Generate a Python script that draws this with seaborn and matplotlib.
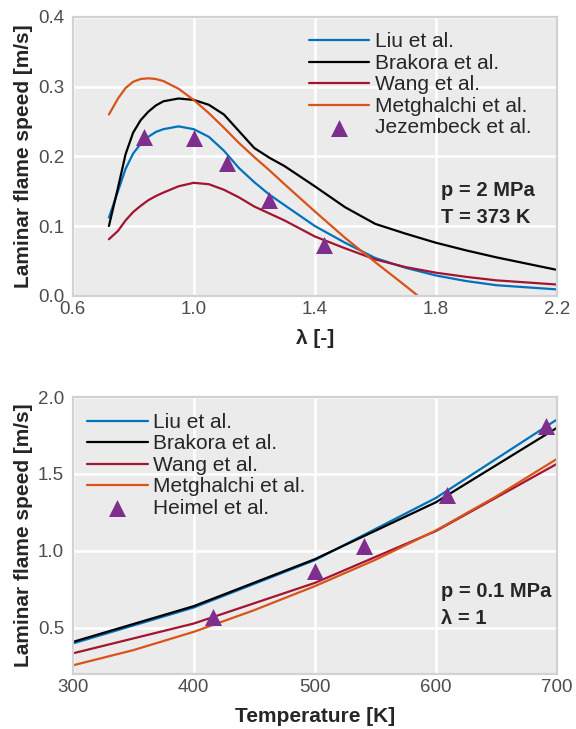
import numpy as np
import pandas as pd
import matplotlib
matplotlib.use('Agg')
import matplotlib.pyplot as plt
import seaborn as sns

# ---- data: top panel (p = 2 MPa, T = 373 K) ----
lam = [0.72, 0.75, 0.775, 0.8, 0.825, 0.85, 0.875, 0.9, 0.95, 1.0, 1.05, 1.1,
       1.15, 1.2, 1.25, 1.3, 1.4, 1.5, 1.6, 1.7, 1.8, 1.9, 2.0, 2.1, 2.2]
liu_lam = [0.112, 0.15, 0.182, 0.204, 0.218, 0.228, 0.235, 0.239, 0.243,
           0.239, 0.228, 0.208, 0.183, 0.163, 0.145, 0.13, 0.1, 0.076, 0.054,
           0.04, 0.029, 0.021, 0.015, 0.012, 0.009]
brakora_lam = [0.1, 0.155, 0.203, 0.234, 0.252, 0.264, 0.273, 0.279, 0.283,
               0.281, 0.274, 0.26, 0.236, 0.212, 0.198, 0.186, 0.157, 0.127,
               0.103, 0.089, 0.076, 0.065, 0.055, 0.046, 0.037]
wang_lam = [0.081, 0.093, 0.108, 0.12, 0.129, 0.137, 0.143, 0.148, 0.157,
            0.162, 0.16, 0.152, 0.141, 0.128, 0.118, 0.108, 0.085, 0.068,
            0.052, 0.041, 0.033, 0.027, 0.022, 0.019, 0.016]
lam_met = [0.72, 0.75, 0.775, 0.8, 0.825, 0.85, 0.875, 0.9, 0.95, 1.0, 1.05,
           1.1, 1.15, 1.2, 1.25, 1.3, 1.4, 1.5, 1.6, 1.7, 1.74]
met_lam = [0.26, 0.283, 0.298, 0.307, 0.311, 0.312, 0.311, 0.308, 0.297, 0.281,
           0.262, 0.241, 0.219, 0.199, 0.18, 0.16, 0.121, 0.083, 0.048, 0.014,
           0.0]
jez_lam = [0.835, 1.0, 1.11, 1.25, 1.43]
jez_sl = [0.228, 0.226, 0.19, 0.137, 0.073]

# ---- data: bottom panel (p = 0.1 MPa, lambda = 1) ----
temp = [300, 400, 500, 600, 700]
liu_T = [0.398, 0.632, 0.94, 1.344, 1.854]
brakora_T = [0.408, 0.641, 0.946, 1.316, 1.80]
wang_T = [0.334, 0.528, 0.792, 1.129, 1.566]
temp_met = [300, 350, 400, 450, 500, 550, 600, 650, 700]
met_T = [0.256, 0.355, 0.474, 0.615, 0.771, 0.942, 1.133, 1.355, 1.598]
heimel_T = [416, 500, 541, 609, 691]
heimel_sl = [0.571, 0.872, 1.032, 1.361, 1.81]

colors = {'Liu et al.': '#0072BD', 'Brakora et al.': '#000000',
          'Wang et al.': '#A2142F', 'Metghalchi et al.': '#D95319'}
tri_color = '#7E2F8E'

sns.set_theme(style='darkgrid', rc={
    'axes.facecolor': '#EBEBEB',
    'axes.edgecolor': '#D2D2D2',
    'axes.linewidth': 1.6,
    'grid.color': 'white',
    'grid.linewidth': 1.8,
    'xtick.color': '#4d4d4d',
    'ytick.color': '#4d4d4d',
    'xtick.labelsize': 13.5,
    'ytick.labelsize': 13.5,
})
plt.rcParams['font.family'] = ['Liberation Sans', 'DejaVu Sans']

fig = plt.figure(figsize=(5.76, 7.29), dpi=100)
ax1 = fig.add_axes([0.126, 0.5944, 0.841, 0.3823])
ax2 = fig.add_axes([0.126, 0.0754, 0.841, 0.380])

leg_kw = dict(loc='upper left', frameon=False, fontsize=15, borderpad=0,
              borderaxespad=0, handlelength=2.9, handletextpad=0.25,
              labelspacing=0.12)
note_kw = dict(fontsize=14.5, fontweight='bold')


def draw_panel(ax, lines, pts, pts_label):
    for name, (xs, ys) in lines.items():
        sns.lineplot(x=xs, y=ys, ax=ax, color=colors[name], linewidth=1.6,
                     label=name, sort=False, estimator=None)
    sns.scatterplot(x=pts[0], y=pts[1], ax=ax, marker='^', s=150,
                    color=tri_color, linewidth=0, label=pts_label, zorder=3)


# top panel
draw_panel(ax1, {'Liu et al.': (lam, liu_lam),
                 'Brakora et al.': (lam, brakora_lam),
                 'Wang et al.': (lam, wang_lam),
                 'Metghalchi et al.': (lam_met, met_lam)},
           (jez_lam, jez_sl), 'Jezembeck et al.')
ax1.set_xlim(0.6, 2.2)
ax1.set_ylim(0, 0.4)
ax1.set_xticks([0.6, 1.0, 1.4, 1.8, 2.2])
ax1.set_yticks([0.0, 0.1, 0.2, 0.3, 0.4])
ax1.set_xlabel('λ [-]', fontsize=15, fontweight='bold', labelpad=8)
ax1.set_ylabel('Laminar flame speed [m/s]', fontsize=15, fontweight='bold')
ax1.legend(bbox_to_anchor=(0.488, 0.945), **leg_kw)
ax1.text(0.76, 0.358, 'p = 2 MPa', transform=ax1.transAxes, **note_kw)
ax1.text(0.76, 0.262, 'T = 373 K', transform=ax1.transAxes, **note_kw)

# bottom panel
draw_panel(ax2, {'Liu et al.': (temp, liu_T),
                 'Brakora et al.': (temp, brakora_T),
                 'Wang et al.': (temp, wang_T),
                 'Metghalchi et al.': (temp_met, met_T)},
           (heimel_T, heimel_sl), 'Heimel et al.')
ax2.set_xlim(300, 700)
ax2.set_ylim(0.2, 2.0)
ax2.set_xticks([300, 400, 500, 600, 700])
ax2.set_yticks([0.5, 1.0, 1.5, 2.0])
ax2.set_xlabel('Temperature [K]', fontsize=15, fontweight='bold', labelpad=8)
ax2.set_ylabel('Laminar flame speed [m/s]', fontsize=15, fontweight='bold')
ax2.legend(bbox_to_anchor=(0.03, 0.943), **leg_kw)
ax2.text(0.76, 0.278, 'p = 0.1 MPa', transform=ax2.transAxes, **note_kw)
ax2.text(0.76, 0.182, 'λ = 1', transform=ax2.transAxes, **note_kw)

for ax in (ax1, ax2):
    ax.tick_params(axis='y', pad=6, length=0)
    ax.tick_params(axis='x', pad=3.5, length=0)
    ax.yaxis.set_label_coords(-0.082, 0.5)
    for sp in ax.spines.values():
        sp.set_visible(True)

fig.savefig('out.png', dpi=100)
